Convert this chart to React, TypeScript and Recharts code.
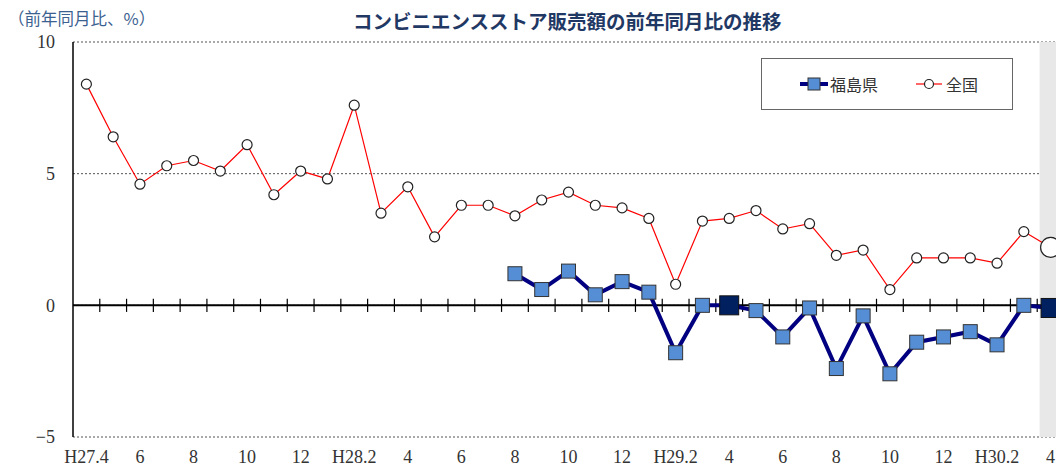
import { ComposedChart, Line, XAxis, YAxis, CartesianGrid, ReferenceLine, ReferenceArea, Legend } from 'recharts';

const categories = [
  'H27.4', 'H27.5', 'H27.6', 'H27.7', 'H27.8', 'H27.9', 'H27.10', 'H27.11', 'H27.12',
  'H28.1', 'H28.2', 'H28.3', 'H28.4', 'H28.5', 'H28.6', 'H28.7', 'H28.8', 'H28.9', 'H28.10', 'H28.11', 'H28.12',
  'H29.1', 'H29.2', 'H29.3', 'H29.4', 'H29.5', 'H29.6', 'H29.7', 'H29.8', 'H29.9', 'H29.10', 'H29.11', 'H29.12',
  'H30.1', 'H30.2', 'H30.3', 'H30.4',
];

const tickLabels = ['H27.4', '6', '8', '10', '12', 'H28.2', '4', '6', '8', '10', '12', 'H29.2', '4', '6', '8', '10', '12', 'H30.2', '4'];

// 全国
const national = [
  8.4, 6.4, 4.6, 5.3, 5.5, 5.1, 6.1, 4.2, 5.1,
  4.8, 7.6, 3.5, 4.5, 2.6, 3.8, 3.8, 3.4, 4.0, 4.3, 3.8, 3.7,
  3.3, 0.8, 3.2, 3.3, 3.6, 2.9, 3.1, 1.9, 2.1, 0.6, 1.8, 1.8,
  1.8, 1.6, 2.8, 2.2,
];

// 福島県
const fukushima = [
  null, null, null, null, null, null, null, null, null,
  null, null, null, null, null, null, null, 1.2, 0.6, 1.3, 0.4, 0.9,
  0.5, -1.8, 0.0, 0.0, -0.2, -1.2, -0.1, -2.4, -0.4, -2.6, -1.4, -1.2,
  -1.0, -1.5, 0.0, -0.1,
];

const yTicks = [-5, 0, 5, 10];
const fukuHighlight = ['H29.4', 'H30.4'];
const nationalHighlight = ['H30.4'];

const data = categories.map((c, i) => ({ i, name: c, national: national[i], fukushima: fukushima[i] }));
const xTicks = data.filter((d) => d.i % 2 === 0).map((d) => d.i);
const boundaries = data.slice(0, -1).map((d) => d.i + 0.5);
const lastIdx = data.length - 1;

const tickFont = { fontFamily: "'Liberation Serif', 'DejaVu Serif', serif", fontSize: 18, fill: '#333' };

const FukuDot = (props: any) => {
  const { cx, cy, index, payload } = props;
  if (cx == null || cy == null || payload?.fukushima == null) return <g key={`f-${index}`} />;
  const big = fukuHighlight.includes(payload.name);
  const s = big ? 19 : 14;
  return (
    <rect
      key={`f-${index}`}
      x={cx - s / 2}
      y={cy - s / 2}
      width={s}
      height={s}
      fill={big ? '#002060' : '#558ED5'}
      stroke={big ? '#111' : '#333'}
      strokeWidth={1}
    />
  );
};

const NationalDot = (props: any) => {
  const { cx, cy, index, payload } = props;
  if (cx == null || cy == null) return <g key={`n-${index}`} />;
  const big = nationalHighlight.includes(payload.name);
  return <circle key={`n-${index}`} cx={cx} cy={cy} r={big ? 10 : 5} fill="#fff" stroke="#222" strokeWidth={1.2} />;
};

const LegendBox = () => (
  <div
    style={{
      width: 252,
      height: 52,
      border: '1.5px solid #666',
      background: '#fff',
      display: 'flex',
      alignItems: 'center',
      fontFamily: "'Noto Sans CJK JP', sans-serif",
      fontSize: 16,
      color: '#333',
      boxSizing: 'border-box',
    }}
  >
    <svg width={30} height={16} style={{ marginLeft: 38 }}>
      <line x1={0} y1={8} x2={28} y2={8} stroke="#000080" strokeWidth={4} />
      <rect x={8} y={2} width={12} height={12} fill="#558ED5" stroke="#333" strokeWidth={1} />
    </svg>
    <span>福島県</span>
    <svg width={28} height={16} style={{ marginLeft: 38 }}>
      <line x1={0} y1={8} x2={26} y2={8} stroke="#FF0000" strokeWidth={1.2} />
      <circle cx={13} cy={8} r={4.5} fill="#fff" stroke="#222" strokeWidth={1.2} />
    </svg>
    <span style={{ marginLeft: 2 }}>全国</span>
  </div>
);

export default function App() {
  return (
    <div style={{ position: 'absolute', left: 0, top: 0, width: 1056, height: 467, overflow: 'hidden', background: '#fff' }}>
      <div
        style={{
          position: 'absolute',
          left: 8,
          top: 6,
          fontFamily: "'Noto Sans CJK JP', sans-serif",
          fontSize: 16.5,
          color: '#3B6190',
          whiteSpace: 'nowrap',
        }}
      >
        （前年同月比、%）
      </div>
      <div
        style={{
          position: 'absolute',
          left: 353,
          top: 6,
          fontFamily: "'Noto Sans CJK JP', sans-serif",
          fontSize: 19.5,
          fontWeight: 700,
          color: '#1F3864',
          whiteSpace: 'nowrap',
        }}
      >
        コンビニエンスストア販売額の前年同月比の推移
      </div>
      <ComposedChart width={1070} height={467} data={data} margin={{ top: 42, right: 6, bottom: 0, left: 0 }}>
        <CartesianGrid vertical={false} stroke="#555" strokeDasharray="2 2" />
        <ReferenceArea x1={lastIdx - 0.41} x2={lastIdx + 0.41} y1={-5} y2={10} fill="#E8E8E8" fillOpacity={1} stroke="none" />
        <XAxis
          type="number"
          dataKey="i"
          domain={[-0.5, lastIdx + 0.5]}
          ticks={xTicks}
          interval={0}
          tickFormatter={(v: number) => tickLabels[xTicks.indexOf(v)] ?? ''}
          axisLine={false}
          tickLine={false}
          tickSize={0}
          tickMargin={13}
          height={30}
          tick={tickFont}
        />
        <YAxis
          domain={[-5, 10]}
          ticks={yTicks}
          interval={0}
          width={73}
          axisLine={{ stroke: '#000', strokeWidth: 1.5 }}
          tickLine={false}
          tickSize={0}
          tickMargin={18}
          tick={tickFont}
          tickFormatter={(v: number) => String(v).replace('-', '−')}
        />
        <ReferenceLine y={0} stroke="#000" strokeWidth={2} />
        {boundaries.map((b) => (
          <ReferenceLine
            key={`b-${b}`}
            segment={[{ x: b, y: -0.25 }, { x: b, y: 0.25 }]}
            stroke="#000"
            strokeWidth={1.2}
          />
        ))}
        <Line
          dataKey="national"
          stroke="#FF0000"
          strokeWidth={1.2}
          dot={NationalDot}
          activeDot={false}
          isAnimationActive={false}
        />
        <Line
          dataKey="fukushima"
          stroke="#000080"
          strokeWidth={4}
          dot={FukuDot}
          activeDot={false}
          isAnimationActive={false}
        />
        <Legend
          layout="horizontal"
          verticalAlign="middle"
          align="center"
          wrapperStyle={{ left: 761, top: 58, width: 252 }}
          content={() => <LegendBox />}
        />
      </ComposedChart>
    </div>
  );
}
